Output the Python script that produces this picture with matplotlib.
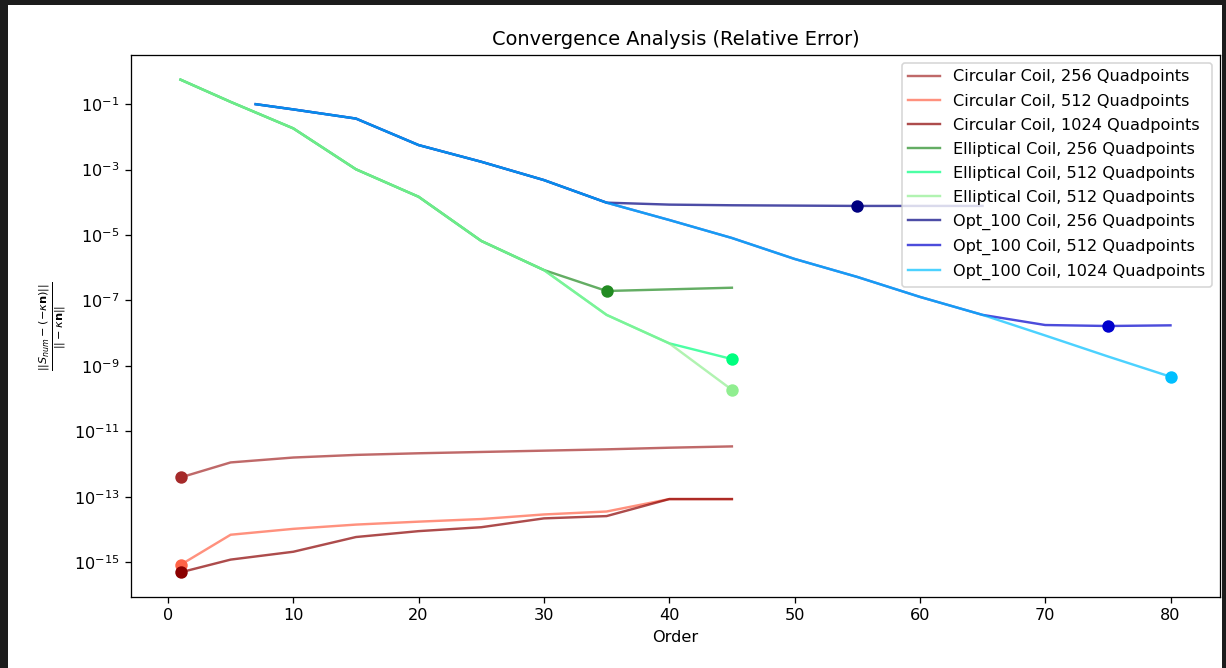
import numpy as np
import matplotlib.pyplot as plt
import matplotlib.patches as mpatches

# orders
x_circ = [1, 5, 10, 15, 20, 25, 30, 35, 40, 45]
x_ell = [1, 5, 10, 15, 20, 25, 30, 35, 40, 45]
x_opt256 = [7, 10, 15, 20, 25, 30, 35, 40, 45, 50, 55, 60, 65]
x_opt = [7, 10, 15, 20, 25, 30, 35, 40, 45, 50, 55, 60, 65, 70, 75, 80]

# log10 of relative error
circ256 = [-12.41, -11.95, -11.80, -11.72, -11.67, -11.63, -11.59, -11.55, -11.50, -11.46]
circ512 = [-15.08, -14.16, -13.98, -13.85, -13.76, -13.68, -13.54, -13.45, -13.07, -13.07]
circ1024 = [-15.31, -14.92, -14.68, -14.23, -14.05, -13.93, -13.66, -13.59, -13.07, -13.07]

ell256 = [-0.25, -0.93, -1.74, -2.99, -3.83, -5.18, -6.07, -6.71, -6.66, -6.61]
ell512 = [-0.25, -0.93, -1.74, -2.99, -3.83, -5.18, -6.07, -7.44, -8.31, -8.79]
ell512b = [-0.25, -0.93, -1.74, -2.99, -3.83, -5.18, -6.07, -7.44, -8.31, -9.73]

opt256 = [-1.00, -1.16, -1.44, -2.25, -2.76, -3.32, -4.01, -4.07, -4.09, -4.10, -4.11, -4.11, -4.11]
opt512 = [-1.00, -1.16, -1.44, -2.25, -2.76, -3.32, -4.01, -4.54, -5.09, -5.73, -6.28, -6.89, -7.44,
          -7.75, -7.78, -7.76]
opt1024 = [-1.00, -1.16, -1.44, -2.25, -2.76, -3.32, -4.01, -4.54, -5.09, -5.73, -6.28, -6.89, -7.44,
           -8.07, -8.71, -9.33]

series = [
    ("Circular Coil, 256 Quadpoints", x_circ, circ256, "brown"),
    ("Circular Coil, 512 Quadpoints", x_circ, circ512, "tomato"),
    ("Circular Coil, 1024 Quadpoints", x_circ, circ1024, "darkred"),
    ("Elliptical Coil, 256 Quadpoints", x_ell, ell256, "forestgreen"),
    ("Elliptical Coil, 512 Quadpoints", x_ell, ell512, "springgreen"),
    ("Elliptical Coil, 512 Quadpoints", x_ell, ell512b, "lightgreen"),
    ("Opt_100 Coil, 256 Quadpoints", x_opt256, opt256, "navy"),
    ("Opt_100 Coil, 512 Quadpoints", x_opt, opt512, "mediumblue"),
    ("Opt_100 Coil, 1024 Quadpoints", x_opt, opt1024, "deepskyblue"),
]

DPI = 116
fig = plt.figure(figsize=(1226 / DPI, 668 / DPI), dpi=DPI, facecolor="#1c1c1c")
# white page inside the dark screenshot frame
fig.patches.append(mpatches.Rectangle((8 / 1226, 0), (1222 - 8) / 1226, 663 / 668,
                                      transform=fig.transFigure, facecolor="white",
                                      edgecolor="none", zorder=-10))

ax = fig.add_axes([131 / 1226, 1 - 597 / 668, (1220 - 131) / 1226, (597 - 55) / 668])

for label, xs, logs, col in series:
    ys = 10.0 ** np.array(logs)
    ax.plot(xs, ys, color=col, alpha=0.7, label=label)
    i = int(np.argmin(ys))
    ax.scatter(xs[i], ys[i], color=col, s=45, zorder=3)

ax.set_yscale("log")
ax.set_title("Convergence Analysis (Relative Error)")
ax.set_xlabel("Order")
ax.set_ylabel(r"$\frac{||S_{num} - (-\kappa \mathbf{n})||}{|| -\kappa \mathbf{n}||}$")
ax.legend(loc="upper right", labelspacing=0.56)

fig.savefig("out.png", dpi=DPI, facecolor=fig.get_facecolor())
